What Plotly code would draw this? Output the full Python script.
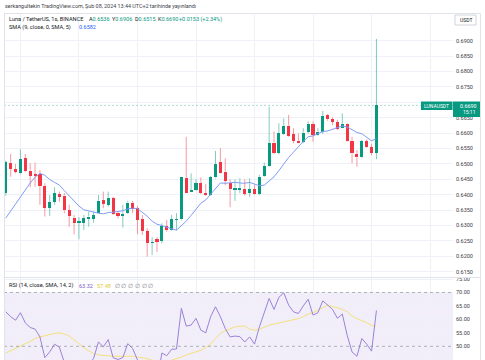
import plotly.graph_objects as go
import pandas as pd

# ---------------- data ----------------
first_candle = "2024-02-05 09:00"   # 1-hour candles (1s = 1 saat)

open_ = [0.6405, 0.6502, 0.6483, 0.6469, 0.6518, 0.6478, 0.6465, 0.6466, 0.6429, 0.6358,
         0.6377, 0.6402, 0.6397, 0.6349, 0.6325, 0.6309, 0.6309, 0.6321, 0.6322, 0.6342,
         0.6383, 0.6367, 0.6388, 0.6340, 0.6333, 0.6340, 0.6374, 0.6356, 0.6321, 0.6282,
         0.6244, 0.6255, 0.6250, 0.6297, 0.6285, 0.6318, 0.6320, 0.6455, 0.6410, 0.6415,
         0.6437, 0.6405, 0.6399, 0.6456, 0.6507, 0.6475, 0.6439, 0.6418, 0.6418, 0.6419,
         0.6405, 0.6417, 0.6401, 0.6461, 0.6493, 0.6569, 0.6536, 0.6597, 0.6624, 0.6596,
         0.6575, 0.6571, 0.6605, 0.6630, 0.6593, 0.6604, 0.6659, 0.6645, 0.6635, 0.6618,
         0.6630, 0.6575, 0.6532, 0.6521, 0.6574, 0.6554, 0.6536]
high = [0.6510, 0.6532, 0.6500, 0.6547, 0.6532, 0.6502, 0.6504, 0.6480, 0.6437, 0.6399,
        0.6424, 0.6410, 0.6405, 0.6367, 0.6334, 0.6327, 0.6334, 0.6345, 0.6345, 0.6399,
        0.6410, 0.6410, 0.6393, 0.6345, 0.6367, 0.6380, 0.6380, 0.6363, 0.6334, 0.6291,
        0.6262, 0.6262, 0.6307, 0.6318, 0.6334, 0.6340, 0.6458, 0.6588, 0.6469, 0.6450,
        0.6456, 0.6435, 0.6461, 0.6542, 0.6551, 0.6518, 0.6450, 0.6450, 0.6453, 0.6450,
        0.6453, 0.6431, 0.6464, 0.6504, 0.6686, 0.6605, 0.6632, 0.6648, 0.6659, 0.6616,
        0.6599, 0.6616, 0.6638, 0.6637, 0.6616, 0.6672, 0.6662, 0.6651, 0.6643, 0.6664,
        0.6632, 0.6588, 0.6545, 0.6578, 0.6580, 0.6565, 0.6906]
low = [0.6397, 0.6458, 0.6469, 0.6466, 0.6473, 0.6424, 0.6426, 0.6367, 0.6329, 0.6331,
       0.6367, 0.6377, 0.6340, 0.6296, 0.6271, 0.6255, 0.6285, 0.6296, 0.6309, 0.6340,
       0.6356, 0.6361, 0.6334, 0.6323, 0.6293, 0.6337, 0.6340, 0.6272, 0.6269, 0.6199,
       0.6204, 0.6214, 0.6242, 0.6280, 0.6283, 0.6285, 0.6316, 0.6405, 0.6409, 0.6413,
       0.6402, 0.6396, 0.6396, 0.6453, 0.6469, 0.6431, 0.6359, 0.6380, 0.6405, 0.6396,
       0.6392, 0.6399, 0.6398, 0.6458, 0.6491, 0.6532, 0.6531, 0.6594, 0.6588, 0.6567,
       0.6567, 0.6567, 0.6599, 0.6572, 0.6591, 0.6597, 0.6640, 0.6626, 0.6610, 0.6616,
       0.6572, 0.6502, 0.6491, 0.6518, 0.6552, 0.6528, 0.6515]
close_ = [0.6505, 0.6483, 0.6474, 0.6515, 0.6478, 0.6462, 0.6462, 0.6429, 0.6358, 0.6376,
          0.6405, 0.6393, 0.6349, 0.6331, 0.6309, 0.6312, 0.6323, 0.6329, 0.6334, 0.6380,
          0.6370, 0.6390, 0.6337, 0.6332, 0.6337, 0.6374, 0.6354, 0.6318, 0.6283, 0.6244,
          0.6246, 0.6247, 0.6299, 0.6285, 0.6320, 0.6321, 0.6456, 0.6407, 0.6413, 0.6437,
          0.6407, 0.6399, 0.6456, 0.6500, 0.6471, 0.6445, 0.6418, 0.6423, 0.6422, 0.6402,
          0.6417, 0.6401, 0.6458, 0.6493, 0.6567, 0.6536, 0.6599, 0.6623, 0.6591, 0.6575,
          0.6569, 0.6601, 0.6630, 0.6594, 0.6605, 0.6656, 0.6645, 0.6637, 0.6614, 0.6630,
          0.6575, 0.6534, 0.6521, 0.6574, 0.6554, 0.6536, 0.6690]
sma9 = [0.6324, 0.6347, 0.6367, 0.6392, 0.6415, 0.6438, 0.6457, 0.6469, 0.6463, 0.6449,
        0.6440, 0.6431, 0.6413, 0.6396, 0.6379, 0.6363, 0.6351, 0.6347, 0.6343, 0.6340,
        0.6338, 0.6342, 0.6343, 0.6345, 0.6348, 0.6354, 0.6356, 0.6355, 0.6344, 0.6330,
        0.6314, 0.6304, 0.6300, 0.6294, 0.6289, 0.6285, 0.6300, 0.6314, 0.6333, 0.6354,
        0.6372, 0.6383, 0.6402, 0.6422, 0.6438, 0.6437, 0.6439, 0.6440, 0.6438, 0.6437,
        0.6440, 0.6434, 0.6429, 0.6431, 0.6445, 0.6458, 0.6478, 0.6500, 0.6521, 0.6538,
        0.6557, 0.6573, 0.6588, 0.6591, 0.6598, 0.6605, 0.6607, 0.6612, 0.6617, 0.6623,
        0.6620, 0.6610, 0.6602, 0.6598, 0.6587, 0.6575, 0.6582]
rsi14 = [62.8, 61.0, 59.7, 62.5, 58.7, 57.0, 56.4, 53.5, 45.8, 47.9,
         50.8, 49.6, 44.0, 41.5, 38.5, 39.0, 41.0, 43.0, 45.5, 51.6,
         49.8, 52.5, 45.8, 45.1, 45.8, 51.0, 49.2, 44.0, 40.5, 36.5,
         36.8, 36.6, 47.5, 46.5, 48.9, 49.0, 64.1, 57.5, 57.9, 60.4,
         56.0, 55.0, 61.0, 64.7, 61.0, 56.6, 53.5, 53.8, 53.6, 51.6,
         53.5, 50.8, 57.2, 62.2, 67.8, 63.7, 68.2, 69.9, 65.3, 62.8,
         62.2, 65.0, 67.5, 61.6, 62.5, 66.9, 65.3, 63.7, 60.4, 62.0,
         54.1, 47.9, 46.3, 52.9, 50.8, 48.2, 63.32]
rsi_ma = [47.5, 48.3, 49.3, 50.1, 51.0, 51.8, 52.9, 53.5, 54.0, 54.5,
          54.8, 55.0, 54.6, 53.8, 52.3, 51.0, 49.5, 48.3, 47.3, 46.8,
          46.6, 46.4, 46.3, 46.3, 46.3, 46.3, 46.3, 46.0, 45.8, 45.4,
          44.8, 44.3, 44.0, 44.3, 44.8, 45.5, 46.0, 46.8, 47.3, 47.9,
          48.5, 49.6, 50.8, 52.9, 54.8, 55.8, 56.6, 57.2, 57.5, 57.5,
          56.4, 56.0, 56.3, 57.2, 57.9, 58.3, 58.7, 59.0, 59.4, 59.9,
          60.3, 61.0, 62.0, 62.5, 63.5, 64.5, 65.3, 64.8, 64.3, 63.8,
          62.8, 61.3, 60.3, 59.6, 58.8, 57.8, 57.48]
price_ticks = [0.6150, 0.6200, 0.6250, 0.6300, 0.6350, 0.6400, 0.6450, 0.6500,
               0.6550, 0.6600, 0.6650, 0.6700, 0.6750, 0.6800, 0.6850, 0.6900]
rsi_ticks = [45, 50, 55, 60, 65, 70, 75]
last_price = 0.6690

# ---------------- styling ----------------
GREEN = "#089981"
RED = "#F23645"
FONT = "Roboto, Liberation Sans, Arial, sans-serif"
W, H = 485, 360
LM, RM, TM, BM = 4, 32, 14, 0
PW, PH = W - LM - RM, H - TM - BM


def px(x):
    return (x - LM) / PW


def py(y):
    return (H - BM - y) / PH


times = pd.date_range(first_candle, periods=len(close_), freq="h")
up = [c >= o for o, c in zip(open_, close_)]
body_base = [min(o, c) for o, c in zip(open_, close_)]
body_len = [abs(c - o) for o, c in zip(open_, close_)]
body_col = [GREEN if u else RED for u in up]


def wicks(want_up):
    xs, ys = [], []
    for t, o, h, l, c, u in zip(times, open_, high, low, close_, up):
        if u != want_up:
            continue
        top, bot = max(o, c), min(o, c)
        xs += [t, t, None, t, t, None]
        ys += [h, top, None, bot, l, None]
    return xs, ys


fig = go.Figure()
gx, gy = wicks(True)
rx, ry = wicks(False)
fig.add_trace(go.Scatter(x=gx, y=gy, mode="lines", line=dict(color="rgba(8,153,129,0.5)", width=1),
                         hoverinfo="skip", xaxis="x", yaxis="y"))
fig.add_trace(go.Scatter(x=rx, y=ry, mode="lines", line=dict(color="rgba(242,54,69,0.5)", width=1),
                         hoverinfo="skip", xaxis="x", yaxis="y"))
fig.add_trace(go.Bar(x=times, y=body_len, base=body_base, width=0.64 * 3600 * 1000,
                     marker=dict(color=body_col, line=dict(width=0)), xaxis="x", yaxis="y"))
fig.add_trace(go.Scatter(x=times, y=sma9, mode="lines", line=dict(color="#7f9cf6", width=1),
                         xaxis="x", yaxis="y"))
fig.add_trace(go.Scatter(x=times, y=rsi_ma, mode="lines", line=dict(color="#f3e07c", width=1),
                         xaxis="x2", yaxis="y2"))
fig.add_trace(go.Scatter(x=times, y=rsi14, mode="lines", line=dict(color="#9a82d8", width=1),
                         xaxis="x2", yaxis="y2"))

xr = ["2024-02-05 08:37:48", "2024-02-09 04:42:00"]
split = py(277)
axis_common = dict(showgrid=True, gridcolor="#eef1f7", gridwidth=1, zeroline=False, showline=False,
                   ticks="", automargin=False)
# the 0.6700 label sits behind the last-price tag in the reference
price_ticktext = ["" if abs(v - 0.67) < 1e-9 else "%.4f" % v for v in price_ticks]
fig.update_layout(
    width=W, height=H, margin=dict(l=LM, r=RM, t=TM, b=BM),
    paper_bgcolor="white", plot_bgcolor="white", showlegend=False,
    font=dict(family=FONT, size=5.4, color="#131722"),
    bargap=0,
    xaxis=dict(range=xr, anchor="y", domain=[0, 1], tick0="2024-02-05 00:00", dtick=12 * 3600 * 1000,
               showticklabels=False, **axis_common),
    xaxis2=dict(range=xr, anchor="y2", domain=[0, 1], matches="x", tick0="2024-02-05 00:00",
                dtick=12 * 3600 * 1000, showticklabels=False, **axis_common),
    yaxis=dict(domain=[split, 1], range=[0.61327, 0.69867], side="right", anchor="x",
               tickvals=price_ticks, ticktext=price_ticktext, ticklabelstandoff=2,
               tickfont=dict(size=5.5, color="#3b3e47"), **axis_common),
    yaxis2=dict(domain=[0, split], range=[44.91, 75.76], side="right", anchor="x2",
                tickvals=rsi_ticks, tickformat=".2f", ticklabelstandoff=2,
                tickfont=dict(size=5.5, color="#3b3e47"), **axis_common),
)

shapes = []
# RSI band and levels
shapes.append(dict(type="rect", xref="paper", yref="y2", x0=0, x1=1, y0=30, y1=70,
                   fillcolor="rgba(126,87,194,0.10)", line=dict(width=0), layer="below"))
for lvl in (70, 50):
    shapes.append(dict(type="line", xref="paper", yref="y2", x0=0, x1=1, y0=lvl, y1=lvl,
                       line=dict(color="rgba(120,123,134,0.55)", width=1, dash="3px,3px")))
# last price line
shapes.append(dict(type="line", xref="paper", yref="y", x0=0, x1=1, y0=last_price, y1=last_price,
                   line=dict(color="rgba(8,153,129,0.35)", width=1, dash="2px,2px")))
# panel borders
border = "#e0e3eb"
shapes.append(dict(type="line", xref="paper", yref="paper", x0=px(4), x1=px(480.5), y0=py(13.5), y1=py(13.5),
                   line=dict(color=border, width=1)))
shapes.append(dict(type="line", xref="paper", yref="paper", x0=px(4.5), x1=px(4.5), y0=py(13.5), y1=py(360),
                   line=dict(color=border, width=1)))
shapes.append(dict(type="line", xref="paper", yref="paper", x0=px(480.5), x1=px(480.5), y0=py(13.5), y1=py(360),
                   line=dict(color=border, width=1)))
shapes.append(dict(type="line", xref="paper", yref="paper", x0=px(4), x1=px(480.5), y0=py(277.5), y1=py(277.5),
                   line=dict(color=border, width=1)))
# USDT box
shapes.append(dict(type="rect", xref="paper", yref="paper", x0=px(455), x1=px(476), y0=py(15), y1=py(25),
                   fillcolor="white", line=dict(color="#d1d4dc", width=1)))
# last price labels
shapes.append(dict(type="rect", xref="paper", yref="paper", x0=px(421), x1=px(452.5), y0=py(101.5), y1=py(110),
                   fillcolor=GREEN, line=dict(width=0), layer="above"))
shapes.append(dict(type="rect", xref="paper", yref="paper", x0=px(453), x1=px(480), y0=py(101.5), y1=py(117),
                   fillcolor=GREEN, line=dict(width=0), layer="above"))
fig.update_layout(shapes=shapes)

ann = []


def text(s, x, y, color="#131722", anchor="left", size=5.4):
    ann.append(dict(text=s, x=px(x), y=py(y), xref="paper", yref="paper", xanchor=anchor, yanchor="middle",
                    showarrow=False, font=dict(family=FONT, size=size, color=color)))


def g(v):
    return "<span style='color:%s'>%s</span>" % (GREEN, v)


text("serkangultekin TradingView.com, Şub 08, 2024 13:44 UTC+2 tarihinde yayınlandı", 3.3, 6, "#3b3e47")
text("Luna / TetherUS, 1s, BINANCE", 7.3, 19, size=5.6)
text("A" + g("0.6536"), 86.8, 19, size=5.5)
text("Y" + g("0.6906"), 109.8, 19, size=5.5)
text("D" + g("0.6515"), 132.8, 19, size=5.5)
text("K" + g("0.6690"), 155.5, 19, size=5.5)
text(g("+0.0153 (+2.34%)"), 176.7, 19, size=5.5)
text("SMA (9, close, 0, SMA, 5)", 7.3, 27, size=5.6)
text("0.6582", 77, 27, "#2962FF", size=5.5)
text("RSI (14, close, SMA, 14, 2)", 7.3, 285.7, size=5.6)
text("63.32", 77.3, 285.7, "#7E57C2", size=5.5)
text("57.48", 95, 285.7, "#E2C93A", size=5.5)
for k in range(6):
    text("∅", 112.7 + 6.7 * k, 285.7, "#787b86", size=5.5)
text("USDT", 465.5, 20, "#131722", "center", 5.0)
text("LUNAUSDT", 436.8, 105.8, "white", "center", 5.0)
text("0.6690", 468.5, 105.5, "white", "center", 5.4)
text("15:11", 468.5, 112.3, "white", "center", 5.0)
fig.update_layout(annotations=ann)

fig.write_html("out.html", config={"displayModeBar": False},
               post_script="document.body.style.margin='0';document.body.style.overflow='hidden';")
